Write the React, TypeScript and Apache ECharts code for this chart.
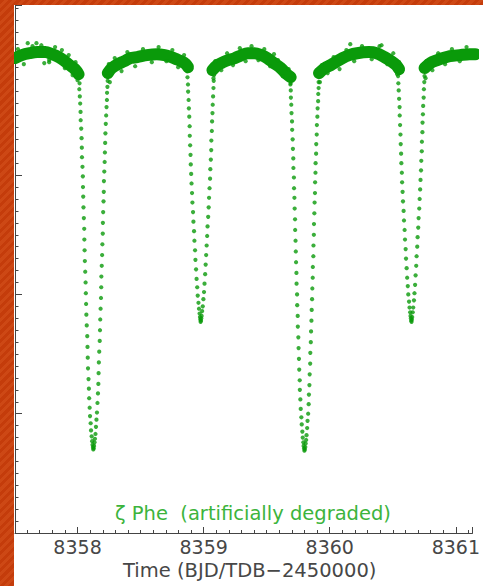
import React, { useEffect, useRef } from "react";
import * as echarts from "echarts";

// Out-of-eclipse light curve (band centre) per segment: [time, flux]
const band1 = [[8357.504,0.8981],[8357.558,0.9006],[8357.620,0.9022],[8357.682,0.9031],[8357.744,0.9031],[8357.798,0.9014],[8357.853,0.8989],[8357.899,0.8955],[8357.938,0.8922],[8357.969,0.8897],[8357.992,0.8872],[8358.008,0.8846]];
const band2 = [[8358.240,0.8855],[8358.271,0.8897],[8358.318,0.8930],[8358.372,0.8955],[8358.419,0.8981],[8358.473,0.8989],[8358.550,0.9006],[8358.628,0.9014],[8358.690,0.9006],[8358.744,0.8989],[8358.783,0.8972],[8358.822,0.8955],[8358.860,0.8930],[8358.876,0.8905]];
const band3 = [[8359.070,0.8880],[8359.109,0.8922],[8359.155,0.8947],[8359.194,0.8964],[8359.248,0.8981],[8359.302,0.9006],[8359.349,0.9022],[8359.403,0.9022],[8359.457,0.9006],[8359.504,0.8981],[8359.558,0.8939],[8359.612,0.8897],[8359.659,0.8846],[8359.690,0.8821]];
const band4 = [[8359.915,0.8855],[8359.961,0.8897],[8360.008,0.8922],[8360.047,0.8947],[8360.101,0.8981],[8360.155,0.9006],[8360.217,0.9022],[8360.310,0.9031],[8360.372,0.9022],[8360.434,0.8989],[8360.488,0.8955],[8360.527,0.8922],[8360.550,0.8888]];
const band5 = [[8360.752,0.8897],[8360.798,0.8939],[8360.853,0.8964],[8360.899,0.8981],[8360.953,0.8997],[8361.031,0.9006],[8361.109,0.9014],[8361.155,0.9014]];

// Scattered points on the ragged edges of the band and outliers
const edgePoints = [
[8357.527,0.9056],[8357.574,0.8930],[8357.643,0.9081],[8357.713,0.9089],[8357.775,0.8964],[8357.822,0.9073],[8357.876,0.9048],[8357.899,0.8897],[8357.930,0.9006],[8357.961,0.8838],[8357.984,0.8947],[8358.000,0.8796],
[8358.248,0.8930],[8358.256,0.8779],[8358.295,0.8981],[8358.349,0.8872],[8358.395,0.9031],[8358.457,0.8913],[8358.519,0.9056],[8358.589,0.8947],[8358.643,0.9073],[8358.705,0.8955],[8358.752,0.9048],[8358.798,0.8905],[8358.845,0.9006],[8358.868,0.8872],
[8359.078,0.8813],[8359.093,0.8955],[8359.140,0.8880],[8359.186,0.9022],[8359.233,0.8922],[8359.287,0.9064],[8359.333,0.8955],[8359.380,0.9081],[8359.434,0.8964],[8359.481,0.9056],[8359.527,0.8913],[8359.589,0.8964],[8359.628,0.8830],[8359.674,0.8889],[8359.690,0.8771],
[8359.922,0.8779],[8359.938,0.8922],[8359.984,0.8855],[8360.031,0.8989],[8360.078,0.8889],[8360.132,0.9048],[8360.194,0.8955],[8360.256,0.9081],[8360.333,0.8972],[8360.395,0.9081],[8360.457,0.8930],[8360.504,0.9022],[8360.535,0.8846],[8360.550,0.8947],
[8360.760,0.8813],[8360.767,0.8955],[8360.814,0.8880],[8360.860,0.9022],[8360.915,0.8930],[8360.969,0.9056],[8361.031,0.8955],[8361.085,0.9073]];
const outliers = [[8357.605,0.9106],[8357.674,0.9106],[8357.736,0.8939],[8357.775,0.8947],[8359.558,0.9014],[8360.163,0.9098],[8360.411,0.9089]];

// Eclipse points: [time, flux]
const primary1 = [[8358.013,0.882],[8358.016,0.877],[8358.014,0.872],[8358.018,0.866],[8358.021,0.860],[8358.024,0.853],[8358.025,0.846],[8358.029,0.839],[8358.032,0.831],[8358.034,0.823],[8358.035,0.815],[8358.039,0.807],[8358.042,0.799],[8358.043,0.790],[8358.045,0.782],[8358.047,0.773],[8358.050,0.764],[8358.053,0.755],[8358.054,0.746],[8358.056,0.737],[8358.058,0.728],[8358.061,0.719],[8358.064,0.710],[8358.066,0.701],[8358.068,0.692],[8358.070,0.683],[8358.073,0.674],[8358.077,0.665],[8358.079,0.656],[8358.081,0.647],[8358.083,0.638],[8358.087,0.629],[8358.090,0.621],[8358.092,0.613],[8358.096,0.605],[8358.099,0.598],[8358.104,0.592],[8358.107,0.586],[8358.112,0.581],[8358.116,0.577],[8358.119,0.574],[8358.122,0.572],[8358.125,0.570],
[8358.128,0.571],[8358.131,0.573],[8358.135,0.576],[8358.138,0.579],[8358.142,0.583],[8358.146,0.589],[8358.150,0.595],[8358.154,0.601],[8358.158,0.609],[8358.162,0.617],[8358.165,0.625],[8358.167,0.634],[8358.169,0.643],[8358.172,0.652],[8358.176,0.661],[8358.178,0.670],[8358.180,0.679],[8358.183,0.688],[8358.186,0.697],[8358.188,0.706],[8358.189,0.715],[8358.192,0.724],[8358.195,0.733],[8358.197,0.742],[8358.200,0.751],[8358.201,0.760],[8358.203,0.769],[8358.206,0.778],[8358.208,0.786],[8358.209,0.795],[8358.212,0.803],[8358.215,0.811],[8358.217,0.819],[8358.219,0.827],[8358.221,0.835],[8358.224,0.843],[8358.227,0.850],[8358.230,0.857],[8358.233,0.863],[8358.234,0.869],[8358.237,0.874],[8358.239,0.879],[8358.240,0.883]];

const secondary1 = [[8358.872,0.882],[8358.876,0.876],[8358.877,0.870],[8358.881,0.863],[8358.883,0.856],[8358.886,0.849],[8358.889,0.841],[8358.890,0.833],[8358.893,0.825],[8358.896,0.817],[8358.898,0.809],[8358.901,0.801],[8358.904,0.793],[8358.908,0.785],[8358.911,0.777],[8358.916,0.769],[8358.919,0.761],[8358.924,0.753],[8358.927,0.745],[8358.932,0.737],[8358.935,0.729],[8358.940,0.721],[8358.944,0.713],[8358.949,0.706],[8358.953,0.699],[8358.959,0.693],[8358.963,0.688],[8358.968,0.684],[8358.971,0.681],[8358.974,0.679],[8358.976,0.677],
[8358.979,0.678],[8358.981,0.680],[8358.984,0.682],[8358.988,0.686],[8358.993,0.690],[8358.998,0.696],[8359.003,0.702],[8359.007,0.709],[8359.012,0.717],[8359.016,0.725],[8359.020,0.733],[8359.024,0.741],[8359.028,0.749],[8359.031,0.757],[8359.036,0.765],[8359.040,0.773],[8359.043,0.781],[8359.047,0.789],[8359.051,0.797],[8359.053,0.805],[8359.057,0.813],[8359.060,0.821],[8359.061,0.829],[8359.065,0.837],[8359.067,0.845],[8359.070,0.852],[8359.072,0.859],[8359.075,0.866],[8359.078,0.873],[8359.080,0.879],[8359.083,0.884]];

const primary2 = [[8359.687,0.881],[8359.688,0.876],[8359.691,0.871],[8359.692,0.865],[8359.695,0.859],[8359.697,0.852],[8359.701,0.845],[8359.702,0.838],[8359.706,0.830],[8359.708,0.822],[8359.711,0.814],[8359.712,0.806],[8359.716,0.798],[8359.717,0.789],[8359.720,0.781],[8359.722,0.772],[8359.725,0.763],[8359.726,0.754],[8359.729,0.745],[8359.731,0.736],[8359.733,0.727],[8359.736,0.718],[8359.737,0.709],[8359.741,0.700],[8359.742,0.691],[8359.746,0.682],[8359.747,0.673],[8359.751,0.664],[8359.753,0.655],[8359.756,0.646],[8359.758,0.637],[8359.762,0.628],[8359.763,0.620],[8359.767,0.612],[8359.770,0.604],[8359.775,0.597],[8359.778,0.591],[8359.783,0.585],[8359.786,0.580],[8359.791,0.576],[8359.793,0.573],[8359.797,0.571],[8359.799,0.569],
[8359.802,0.570],[8359.806,0.572],[8359.809,0.575],[8359.813,0.578],[8359.816,0.582],[8359.821,0.588],[8359.824,0.594],[8359.829,0.600],[8359.833,0.608],[8359.835,0.616],[8359.839,0.624],[8359.841,0.633],[8359.845,0.642],[8359.846,0.651],[8359.850,0.660],[8359.852,0.669],[8359.855,0.678],[8359.857,0.687],[8359.860,0.696],[8359.862,0.705],[8359.865,0.714],[8359.866,0.723],[8359.870,0.732],[8359.871,0.741],[8359.874,0.750],[8359.875,0.759],[8359.878,0.768],[8359.880,0.777],[8359.883,0.785],[8359.884,0.794],[8359.887,0.802],[8359.888,0.810],[8359.892,0.818],[8359.893,0.826],[8359.897,0.834],[8359.898,0.842],[8359.902,0.849],[8359.904,0.856],[8359.908,0.862],[8359.909,0.868],[8359.912,0.873],[8359.912,0.878],[8359.914,0.882]];

const secondary2 = [[8360.542,0.883],[8360.544,0.877],[8360.547,0.871],[8360.550,0.864],[8360.554,0.857],[8360.555,0.850],[8360.558,0.842],[8360.561,0.834],[8360.563,0.826],[8360.566,0.818],[8360.568,0.810],[8360.572,0.802],[8360.574,0.794],[8360.578,0.786],[8360.581,0.778],[8360.586,0.770],[8360.589,0.762],[8360.594,0.754],[8360.597,0.746],[8360.602,0.738],[8360.605,0.730],[8360.610,0.722],[8360.614,0.714],[8360.619,0.707],[8360.623,0.700],[8360.629,0.694],[8360.633,0.689],[8360.638,0.685],[8360.641,0.682],[8360.644,0.680],[8360.646,0.678],
[8360.649,0.677],[8360.651,0.679],[8360.654,0.681],[8360.658,0.685],[8360.662,0.689],[8360.668,0.695],[8360.672,0.701],[8360.677,0.708],[8360.681,0.716],[8360.686,0.724],[8360.689,0.732],[8360.694,0.740],[8360.697,0.748],[8360.702,0.756],[8360.705,0.764],[8360.710,0.772],[8360.713,0.780],[8360.717,0.788],[8360.720,0.796],[8360.724,0.804],[8360.726,0.812],[8360.730,0.820],[8360.731,0.828],[8360.735,0.836],[8360.736,0.844],[8360.739,0.851],[8360.741,0.858],[8360.745,0.865],[8360.747,0.872],[8360.750,0.878],[8360.752,0.883]];

const xMin = 8357.504;
const xMax = 8361.132;
const yMin = 0.5;
const yMax = 0.9426;
const xTitle = "Time (BJD/TDB\u22122450000)";
const starLabel = "\u03B6 Phe  (artificially degraded)";

const GREEN = "#0a9a0a";
const AXIS = "#444";
const TEXT = "#474747";
const FONT = "DejaVu Sans";

export default function App() {
  const ref = useRef<HTMLDivElement>(null);
  useEffect(() => {
    if (!ref.current) return;
    const chart = echarts.init(ref.current, null, { renderer: "svg" });
    const bandSeries = [band1, band2, band3, band4, band5].map((d) => ({
      type: "line",
      data: d,
      showSymbol: false,
      smooth: 0.3,
      silent: true,
      lineStyle: { color: GREEN, width: 12, cap: "round", join: "round" },
      z: 2,
    }));
    const dotSeries = [primary1, secondary1, primary2, secondary2, edgePoints, outliers].map((d) => ({
      type: "scatter",
      data: d,
      symbolSize: 4.2,
      silent: true,
      itemStyle: { color: GREEN },
      z: 3,
    }));
    chart.setOption({
      animation: false,
      backgroundColor: "#ffffff",
      grid: { left: 15, top: 5, right: 0, bottom: 53, containLabel: false },
      xAxis: {
        type: "value",
        min: xMin,
        max: xMax,
        axisLine: { show: true, onZero: false, lineStyle: { color: AXIS, width: 1 } },
        axisTick: { show: true, inside: true, length: 6, lineStyle: { color: AXIS } },
        minorTick: { show: true, splitNumber: 10, length: 3, lineStyle: { color: AXIS } },
        splitLine: { show: false },
        axisLabel: {
          show: true,
          showMinLabel: false,
          showMaxLabel: false,
          margin: 4,
          color: TEXT,
          fontSize: 19,
          fontFamily: FONT,
          formatter: (v: number) => String(v),
        },
        name: xTitle,
        nameLocation: "middle",
        nameGap: 19,
        nameTextStyle: { color: TEXT, fontSize: 19.5, fontFamily: FONT, padding: [0, 0, 0, 12] },
      },
      yAxis: {
        type: "value",
        min: yMin,
        max: yMax,
        interval: 0.1,
        axisLine: { show: true, onZero: false, lineStyle: { color: AXIS, width: 1 } },
        axisTick: { show: true, inside: true, length: 7, lineStyle: { color: AXIS } },
        minorTick: { show: true, splitNumber: 10, length: 3.5, lineStyle: { color: AXIS } },
        splitLine: { show: false },
        axisLabel: { show: false },
      },
      graphic: [
        {
          type: "text",
          left: 115,
          top: 503,
          style: { text: starLabel, fill: "#3cb43c", fontSize: 19.5, fontFamily: FONT },
          silent: true,
        },
      ],
      series: [...bandSeries, ...dotSeries],
    });
    return () => chart.dispose();
  }, []);

  const hatch =
    "repeating-linear-gradient(135deg, #c43c0b 0px, #c43c0b 3px, #cd4815 3px, #cd4815 6px)";
  return (
    <div style={{ position: "fixed", left: 0, top: 0, width: 483, height: 586, background: "#fff", overflow: "hidden" }}>
      <div ref={ref} style={{ position: "absolute", left: 0, top: 0, width: 483, height: 586 }} />
      <div style={{ position: "absolute", left: 0, top: 0, width: 14, height: 586, background: hatch }} />
      <div style={{ position: "absolute", left: 0, top: 0, width: 483, height: 5, background: hatch }} />
    </div>
  );
}
